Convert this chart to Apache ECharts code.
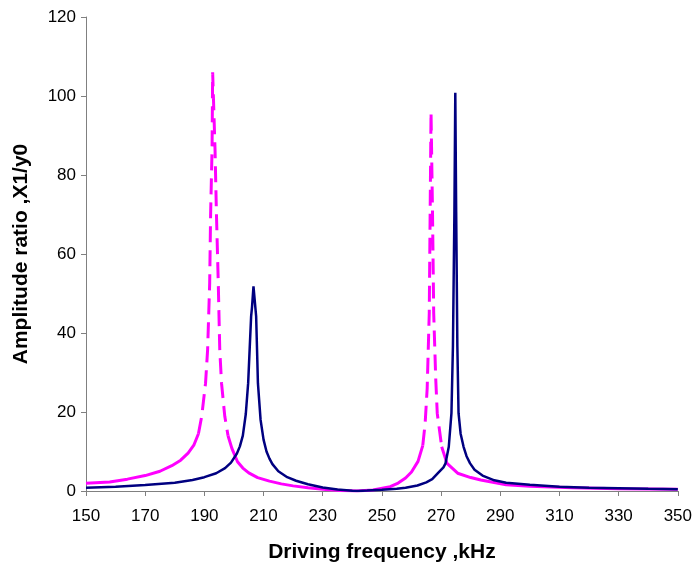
<!DOCTYPE html>
<html>
<head>
<meta charset="utf-8">
<script src="https://cdn.jsdelivr.net/npm/echarts@6/dist/echarts.min.js"></script>
<style>
html,body{margin:0;padding:0;background:#fff;}
#chart{width:695px;height:569px;}
</style>
</head>
<body>
<div id="chart"></div>
<script>
// Driving frequency (kHz) and amplitude ratio X1/y0
var navyFreq = [150,160,170,180,186,190,194,197,199,201,202,203,204,204.8,205.3,205.8,206.1,206.6,207.5,207.8,208.1,209,210,211,212,213,215,218,221,225,230,235,240,242,245,250,255,258,262,265,267,269,270.8,271.5,272.6,273.5,274.0,274.5,274.8,275.1,275.5,275.9,276.6,277.6,278.6,279.8,281.3,284,288,292,300,310,320,330,340,350];
var navyAmp  = [0.85,1.1,1.5,2.1,2.8,3.5,4.5,5.8,7.2,9.5,11.3,14.0,19.5,27.3,35.8,44.2,46.5,51.8,44.2,35.8,27.3,18.0,13.0,10.0,8.2,6.8,5.0,3.5,2.6,1.7,0.9,0.4,0.05,0,0.1,0.3,0.6,0.8,1.4,2.2,3.0,4.6,6.0,7.0,11.2,19.7,36.6,70.5,100.8,70.5,36.6,19.7,14.5,11.2,8.8,7.0,5.4,3.9,2.7,2.1,1.6,1.1,0.85,0.7,0.55,0.45];

var magFreq = [150,158,164,170,175,179,182,184.5,186.5,188,189.1,190.4,191.1,191.8,192.1,192.6,192.8,193.6,194.1,194.7,195.2,195.8,196.9,198,199.3,201.2,203,205,208,212,216,220,225,231,236,241.5,247,252.8,255.5,258,260,262.2,263.8,264.6,265.3,266.0,266.3,266.6,267.1,267.5,268.2,268.7,270.2,272.0,275.6,280,283.4,292,300,314.5,330,350];
var magAmp  = [1.95,2.3,3.0,3.9,5.0,6.4,7.8,9.6,11.7,14.5,18.9,27.3,35.8,52.7,69.6,86.6,106.0,86.6,69.6,52.7,35.8,27.3,18.9,14.0,10.8,7.4,5.8,4.6,3.4,2.5,1.8,1.3,0.8,0.35,0.15,0,0.25,1.1,2.0,3.3,4.8,7.5,11.5,17.0,26.0,45.0,70.5,95.9,70.5,45.1,28.2,19.7,11.2,7.0,4.5,3.4,2.8,1.6,1.2,0.8,0.6,0.45];

var xTicks = {min:150, max:350, interval:20};
var yTicks = {min:0, max:120, interval:20};

// Split the magenta curve so steep (high) segments are dashed, low segments solid
var T = 15;
var magSolid = [], magDash = [];
for (var i = 0; i < magFreq.length; i++) {
  var y = magAmp[i];
  var prev = i > 0 ? magAmp[i-1] : -1;
  var next = i < magAmp.length-1 ? magAmp[i+1] : -1;
  magSolid.push([magFreq[i], y < T ? y : null]);
  magDash.push([magFreq[i], (y >= T || prev >= T || next >= T) ? y : null]);
}
var navyData = navyFreq.map(function(f,i){return [f, navyAmp[i]];});

var chart = echarts.init(document.getElementById('chart'), null, {renderer:'canvas'});
var FF = 'Liberation Sans, Arial, sans-serif';
var axisFont = {fontFamily:FF, fontSize:17, color:'#000'};
chart.setOption({
  animation:false,
  backgroundColor:'#fff',
  grid:{left:86, right:15, top:17, bottom:78, containLabel:false},
  xAxis:{
    type:'value', min:xTicks.min, max:xTicks.max, interval:xTicks.interval,
    name:'Driving frequency ,kHz', nameLocation:'middle', nameGap:51,
    nameTextStyle:{fontFamily:FF, fontSize:21, fontWeight:'bold', color:'#000'},
    axisLine:{show:true, onZero:false, lineStyle:{color:'#808080', width:1}},
    axisTick:{show:true, inside:false, length:5, lineStyle:{color:'#808080'}},
    axisLabel:Object.assign({margin:17}, axisFont),
    splitLine:{show:false}
  },
  yAxis:{
    type:'value', min:yTicks.min, max:yTicks.max, interval:yTicks.interval,
    name:'Amplitude ratio ,X1/y0', nameLocation:'middle', nameGap:54,
    nameTextStyle:{fontFamily:FF, fontSize:21, fontWeight:'bold', color:'#000'},
    axisLine:{show:true, lineStyle:{color:'#808080', width:1}},
    axisTick:{show:true, inside:false, length:5, lineStyle:{color:'#808080'}},
    axisLabel:Object.assign({margin:10}, axisFont),
    splitLine:{show:false}
  },
  series:[
    {type:'line', data:magSolid, showSymbol:false, symbol:'none', connectNulls:false,
     lineStyle:{color:'#FF00FF', width:3}, z:2},
    {type:'line', data:magDash, showSymbol:false, symbol:'none', connectNulls:false,
     lineStyle:{color:'#FF00FF', width:3, type:[16,8]}, z:2},
    {type:'line', data:navyData, showSymbol:false, symbol:'none',
     lineStyle:{color:'#000080', width:2.5}, z:3}
  ]
});
</script>
</body>
</html>
